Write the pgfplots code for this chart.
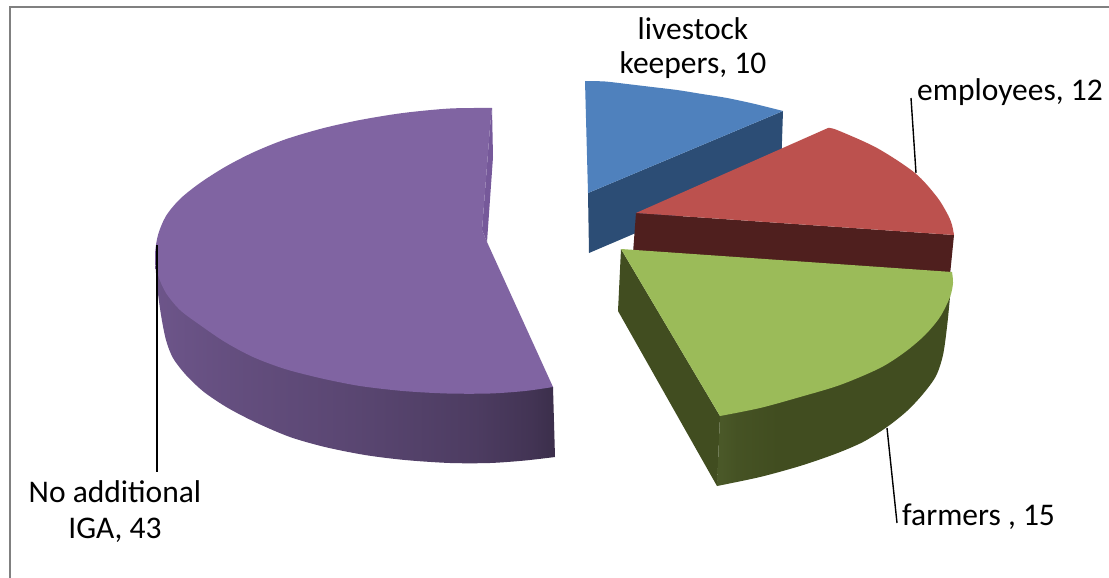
\documentclass[border=0pt]{standalone}
\usepackage{pgfplots}
\pgfplotsset{compat=1.18}
\usepackage{fontspec}
\setmainfont{Carlito}
\definecolor{frameline}{HTML}{808080}
\definecolor{blueTop}{HTML}{4F81BD}
\definecolor{blueSide}{HTML}{2C4D75}
\definecolor{redTop}{HTML}{BC514E}
\definecolor{redSide}{HTML}{4F1F1E}
\definecolor{greenTop}{HTML}{9BBB59}
\definecolor{greenSide}{HTML}{414D20}
\definecolor{greenLight}{HTML}{4A5828}
\definecolor{purpleTop}{HTML}{8064A2}
\definecolor{purpleInner}{HTML}{76599A}
% side walls of the wedges darken towards the right
\pgfdeclarehorizontalshading{purplewall}{100bp}{
  color(0bp)=(purpleTop!85!black);
  color(25bp)=(purpleTop!85!black);
  color(35bp)=(purpleTop!78!black);
  color(50bp)=(purpleTop!70!black);
  color(65bp)=(purpleTop!60!black);
  color(72bp)=(purpleTop!52!black);
  color(75bp)=(purpleTop!46!black);
  color(100bp)=(purpleTop!46!black)}
\pgfdeclarehorizontalshading{greenwall}{100bp}{
  color(0bp)=(greenLight);
  color(26bp)=(greenLight);
  color(29bp)=(greenSide!50!greenLight);
  color(38bp)=(greenSide);
  color(100bp)=(greenSide)}
\begin{document}
\begin{tikzpicture}
\begin{axis}[
  x=1pt, y=1pt, scale only axis,
  xmin=0, xmax=1109, ymin=0, ymax=578, y dir=reverse,
  axis lines=none, clip=true,
  every axis plot/.append style={no markers},
]
% white page area
\addplot[fill=white, draw=none] coordinates {(0,0) (1109,0) (1109,578) (0,578)};
% chart area border: top and left edges only
\addplot[frameline, line width=2pt] coordinates {(1109,7.5) (9.5,7.5) (9.5,578)};

% livestock keepers, 10
\addplot[fill=blueSide, draw=none] coordinates {(588,193) (783,111) (781,171) (589,253)};
\addplot[fill=blueTop, draw=none, smooth] coordinates {
  (585,81) (605,81.5) (627,84) (652,87) (677,90) (702,94) (727,98) (755,104) (783,111)}
  -- (axis cs:588,193) -- cycle;

% No additional IGA, 43
\addplot[shading=purplewall, shading angle=0, draw=none, smooth] coordinates {
  (155,258) (157,285) (161,315) (166,340) (173,358) (186,375) (204,392) (228,408) (257,423)
  (290,437) (325,447) (365,455) (405,460) (450,463) (490,463) (525,460.5) (555,457)}
  -- (axis cs:553,387) -- cycle;
\addplot[fill=purpleInner, draw=none] coordinates {(492,108) (493,157) (487,242) (482,230) (490,127)};
\addplot[fill=purpleTop, draw=none, smooth] coordinates {
  (492,108) (450,108.5) (403,113) (360,120) (322,128.5) (285,139.5) (253,152.5) (225,167)
  (200,183) (180,199) (166,216) (158,235) (155,256) (158,275) (166,293) (180,310)
  (200,325) (225,342) (253,357) (285,369) (322,378.5) (360,386) (403,391) (447,393.5)
  (490,393.5) (525,391) (553,387)}
  -- (axis cs:487,242) -- (axis cs:482,230) -- (axis cs:490,127) -- cycle;

% employees, 12
\addplot[fill=redSide, draw=none] coordinates {(636,213) (954,235) (950,275) (633,253)};
\addplot[fill=redTop, draw=none, smooth] coordinates {
  (828,128) (837,130) (877,148) (915,173) (937,197) (948,215) (952,225) (954,235)}
  -- (axis cs:636,213) -- cycle;

% farmers, 15
\addplot[fill=greenSide, draw=none] coordinates {(621,249) (720,416) (717,486) (618,311)};
\addplot[shading=greenwall, shading angle=0, draw=none, smooth] coordinates {
  (952,272) (950,297) (947,327) (943,355) (936,376) (923,394) (907,411) (887,427)
  (863,442) (835,454) (800,466) (760,477) (717,486)}
  -- (axis cs:720,416) -- cycle;
\addplot[fill=greenTop, draw=none, smooth] coordinates {
  (952,272) (953,283) (950,297) (940,317) (925,335) (905,352) (880,368) (840,385)
  (800,397) (760,408) (720,416)}
  -- (axis cs:621,249) -- cycle;

% leader lines
\addplot[black, line width=1.4pt] coordinates {(911,98) (916,173)};
\addplot[black, line width=1.4pt] coordinates {(887,428) (897,523)};
\addplot[black, line width=1.4pt] coordinates {(157,245) (157,472)};

% category labels
\node[align=center, font=\fontsize{31.5}{34}\selectfont, inner sep=0pt] at (axis cs:693,48) {livestock\\keepers, 10};
\node[anchor=base west, font=\fontsize{31.5}{36}\selectfont, inner sep=0pt] at (axis cs:917,100) {employees, 12};
\node[anchor=base west, font=\fontsize{31.5}{36}\selectfont, inner sep=0pt] at (axis cs:902,525) {farmers , 15};
\node[align=center, font=\fontsize{31.5}{36}\selectfont, inner sep=0pt] at (axis cs:115,511.5) {No additional\\IGA, 43};
\end{axis}
\end{tikzpicture}
\end{document}
